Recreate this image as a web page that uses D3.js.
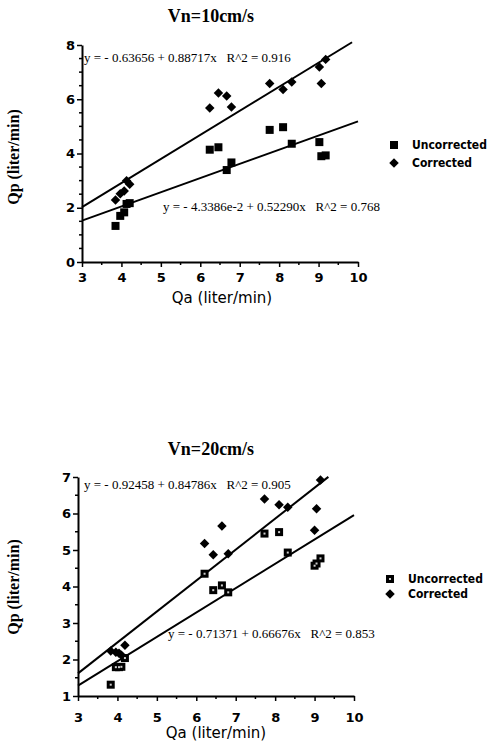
<!DOCTYPE html>
<html lang="en">
<head>
<meta charset="UTF-8">
<title>Qp vs Qa</title>
<script src="https://cdnjs.cloudflare.com/ajax/libs/d3/7.8.5/d3.min.js"></script>
<style>
  body { margin: 0; background: #fff; }
  svg { display: block; }
</style>
</head>
<body>
<svg width="487" height="747"></svg>
<script>
// Vn = 10 cm/s
const qaTop = [3.85, 3.97, 4.07, 4.13, 4.21, 6.24, 6.46, 6.67, 6.79, 7.76, 8.10, 8.32, 9.02, 9.07, 9.18];
const uncorrTop = [1.33, 1.70, 1.83, 2.14, 2.17, 4.14, 4.23, 3.39, 3.67, 4.87, 4.97, 4.36, 4.42, 3.90, 3.93];
const corrTop = [2.29, 2.52, 2.62, 3.00, 2.87, 5.68, 6.23, 6.12, 5.71, 6.58, 6.36, 6.64, 7.19, 6.58, 7.47];
const fitTop = { corr: [-0.63656, 0.88717, 0.916], uncorr: [-0.043386, 0.52290, 0.768] };
const eqTextTop = ["y = - 0.63656 + 0.88717x   R^2 = 0.916", "y = - 4.3386e-2 + 0.52290x   R^2 = 0.768"];
const yTicksTop = [0, 2, 4, 6, 8];

// Vn = 20 cm/s
const qaBot = [3.83, 3.96, 4.04, 4.10, 4.19, 6.21, 6.43, 6.65, 6.81, 7.73, 8.10, 8.32, 9.00, 9.05, 9.15];
const uncorrBot = [1.31, 1.79, 1.79, 1.80, 2.04, 4.35, 3.90, 4.03, 3.84, 5.45, 5.49, 4.93, 4.57, 4.63, 4.77];
const corrBot = [2.23, 2.20, 2.17, 2.12, 2.39, 5.18, 4.87, 5.66, 4.90, 6.40, 6.24, 6.17, 5.54, 6.13, 6.92];
const fitBot = { corr: [-0.92458, 0.84786, 0.905], uncorr: [-0.71371, 0.66676, 0.853] };
const eqTextBot = ["y = - 0.92458 + 0.84786x   R^2 = 0.905", "y = - 0.71371 + 0.66676x   R^2 = 0.853"];
const yTicksBot = [1, 2, 3, 4, 5, 6, 7];

const xTicks = [3, 4, 5, 6, 7, 8, 9, 10];
const seriesNames = ["Uncorrected", "Corrected"];

const svg = d3.select("svg");
const serif = "Liberation Serif, serif";
const sans = "DejaVu Sans, sans-serif";

function drawPanel(cfg) {
    const x = d3.scaleLinear().domain([3, 10]).range(cfg.xRange);
    const y = d3.scaleLinear().domain(cfg.yDomain).range(cfg.yRange);
    const g = svg.append("g");

    // title
    g.append("text")
        .attr("x", cfg.titlePos[0]).attr("y", cfg.titlePos[1])
        .attr("text-anchor", "middle")
        .style("font-family", serif)
        .style("font-weight", "bold").style("font-size", "18px")
        .text(cfg.title);

    // minor ticks
    const xMinor = d3.range(3.5, 10, 1);
    const yMinor = d3.range(cfg.yDomain[0] + 0.5, cfg.yDomain[1], 0.5).filter(v => !cfg.yTicks.includes(v));
    g.append("g").selectAll("line").data(xMinor).join("line")
        .attr("x1", d => x(d)).attr("x2", d => x(d))
        .attr("y1", cfg.yRange[0]).attr("y2", cfg.yRange[0] + 3)
        .attr("stroke", "#000").attr("stroke-width", 1.5);
    g.append("g").selectAll("line").data(yMinor).join("line")
        .attr("x1", cfg.xRange[0] - 3).attr("x2", cfg.xRange[0])
        .attr("y1", d => y(d)).attr("y2", d => y(d))
        .attr("stroke", "#000").attr("stroke-width", 1.5);

    // axes
    g.append("g")
        .attr("transform", `translate(0,${cfg.yRange[0]})`)
        .call(d3.axisBottom(x).tickValues(xTicks).tickFormat(d3.format("d"))
            .tickSize(5).tickSizeOuter(0).tickPadding(cfg.xPad));
    g.append("g")
        .attr("transform", `translate(${cfg.xRange[0]},0)`)
        .call(d3.axisLeft(y).tickValues(cfg.yTicks).tickFormat(d3.format("d"))
            .tickSize(5).tickSizeOuter(0).tickPadding(2));
    g.selectAll(".tick line").attr("stroke-width", 1.5);
    g.selectAll(".domain").attr("stroke", "#000").attr("stroke-width", 2);
    g.selectAll(".tick text")
        .style("font-family", sans).style("font-weight", "bold").style("font-size", "13px");

    // fit lines
    [["corr", cfg.corrEnd], ["uncorr", 10]].forEach(([k, xEnd]) => {
        const [a, b] = cfg.fit[k];
        g.append("line")
            .attr("x1", x(3)).attr("y1", y(a + b * 3))
            .attr("x2", x(xEnd)).attr("y2", y(a + b * xEnd))
            .attr("stroke", "#000").attr("stroke-width", 2);
    });

    // points
    const sq = cfg.qa.map((q, i) => [q, cfg.uncorr[i]]);
    g.append("g").selectAll("rect").data(sq).join("rect")
        .attr("x", d => x(d[0]) - 4).attr("y", d => y(d[1]) - 4)
        .attr("width", 8).attr("height", 8).attr("fill", "#000");
    if (cfg.hollow) {
        g.append("g").selectAll("rect").data(sq).join("rect")
            .attr("x", d => x(d[0]) - 1).attr("y", d => y(d[1]) - 1)
            .attr("width", 2).attr("height", 2).attr("fill", "#ccc");
    }
    const diamond = d3.symbol().type(d3.symbolSquare).size(45);
    g.append("g").selectAll("path").data(cfg.qa.map((q, i) => [q, cfg.corr[i]])).join("path")
        .attr("d", diamond)
        .attr("transform", d => `translate(${x(d[0])},${y(d[1])}) rotate(45)`)
        .attr("fill", "#000");

    // equations
    cfg.eqText.forEach((t, i) => {
        g.append("text")
            .attr("x", cfg.eqPos[i][0]).attr("y", cfg.eqPos[i][1])
            .style("font-family", serif).style("font-size", "13px")
            .style("white-space", "pre")
            .text(t);
    });

    // axis titles
    g.append("text")
        .attr("transform", `translate(${cfg.yTitlePos[0]},${cfg.yTitlePos[1]}) rotate(-90)`)
        .attr("text-anchor", "middle")
        .style("font-family", serif).style("font-weight", "bold").style("font-size", "16px")
        .text("Qp (liter/min)");
    g.append("text")
        .attr("x", cfg.xTitlePos[0]).attr("y", cfg.xTitlePos[1])
        .attr("text-anchor", "middle")
        .style("font-family", sans).style("font-size", "15px")
        .text("Qa (liter/min)");

    // legend
    const lg = g.append("g").attr("transform", `translate(${cfg.legendPos[0]},${cfg.legendPos[1]})`);
    seriesNames.forEach((name, i) => {
        const ly = i * cfg.legendGap;
        if (i === 0) {
            lg.append("rect").attr("x", -4).attr("y", ly - 4).attr("width", 8).attr("height", 8).attr("fill", "#000");
            if (cfg.hollow) lg.append("rect").attr("x", -1).attr("y", ly - 1).attr("width", 2).attr("height", 2).attr("fill", "#ccc");
        } else {
            lg.append("path").attr("d", diamond).attr("transform", `translate(0,${ly}) rotate(45)`).attr("fill", "#000");
        }
        lg.append("text")
            .attr("x", 18).attr("y", ly + 4)
            .style("font-family", "Liberation Sans Narrow, DejaVu Sans Condensed, sans-serif")
            .style("font-weight", "bold").style("font-size", "12px")
            .text(name);
    });
}

drawPanel({
    title: "Vn=10cm/s", titlePos: [211, 22],
    xRange: [82, 358], yDomain: [0, 8], yRange: [262, 45], yTicks: yTicksTop, xPad: 6,
    qa: qaTop, uncorr: uncorrTop, corr: corrTop, fit: fitTop, corrEnd: 9.85,
    eqText: eqTextTop, eqPos: [[84, 62], [163, 211]],
    yTitlePos: [19, 157], xTitlePos: [222, 303], legendPos: [394, 145], legendGap: 18, hollow: false
});

drawPanel({
    title: "Vn=20cm/s", titlePos: [211, 455],
    xRange: [78, 354], yDomain: [1, 7], yRange: [696, 477], yTicks: yTicksBot, xPad: 12,
    qa: qaBot, uncorr: uncorrBot, corr: corrBot, fit: fitBot, corrEnd: 9.35,
    eqText: eqTextBot, eqPos: [[84, 489], [168, 638]],
    yTitlePos: [19, 587], xTitlePos: [216, 738], legendPos: [390, 579], legendGap: 15, hollow: true
});
</script>
</body>
</html>
